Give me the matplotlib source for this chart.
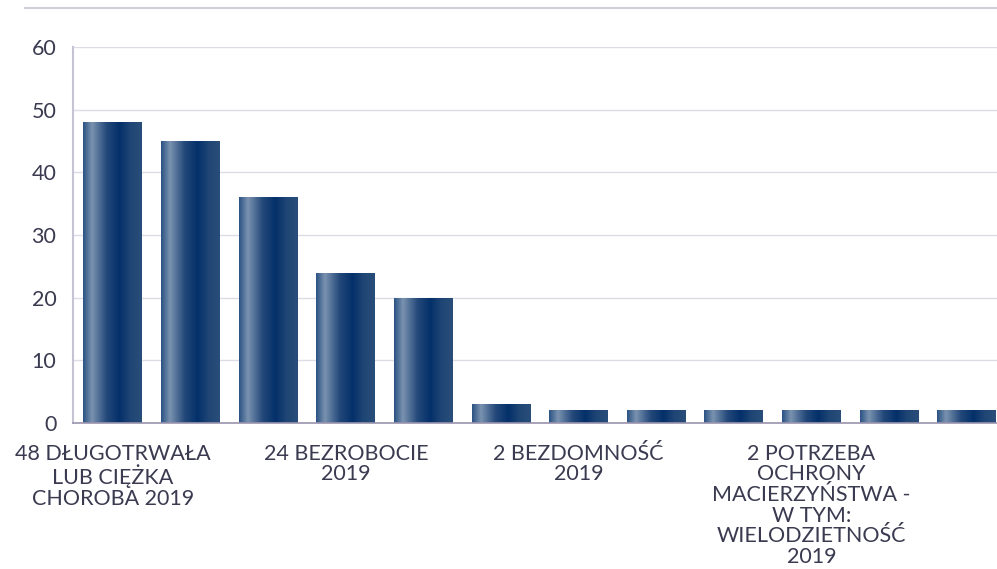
import matplotlib
matplotlib.use('Agg')
import matplotlib.pyplot as plt
import numpy as np
from matplotlib.colors import LinearSegmentedColormap

plt.rcParams['font.family'] = ['Lato', 'DejaVu Sans']

values = [48, 45, 36, 24, 20, 3, 2, 2, 2, 2, 2, 2]
categories = [
    '48 DŁUGOTRWAŁA\nLUB CIĘŻKA\nCHOROBA 2019', '', '',
    '24 BEZROBOCIE\n2019', '', '',
    '2 BEZDOMNOŚĆ\n2019', '', '',
    '2 POTRZEBA\nOCHRONY\nMACIERZYŃSTWA -\nW TYM:\nWIELODZIETNOŚĆ\n2019', '', '',
]
yticks = [0, 10, 20, 30, 40, 50, 60]

text_color = '#3a3a50'
grad = LinearSegmentedColormap.from_list('bar', [
    (0.00, '#2a5282'), (0.15, '#7a92b0'), (0.40, '#24497a'),
    (0.62, '#04306a'), (0.80, '#1e4574'), (1.00, '#2a4e7a')])

fig = plt.figure(figsize=(9.97, 5.69), dpi=100)
ax = fig.add_axes([73 / 997, 1 - 423 / 569, 1 - 73 / 997, (423 - 47) / 569])

x = np.arange(len(values))
bars = ax.bar(x, values, width=0.76, color='none', edgecolor='none', zorder=2)
g = np.linspace(0, 1, 256).reshape(1, -1)
for b in bars:
    im = ax.imshow(g, cmap=grad, aspect='auto', zorder=2,
                   extent=[b.get_x(), b.get_x() + b.get_width(), 0, b.get_height()])
    im.set_clip_path(b)

ax.set_xlim(-0.515, 11.39)
ax.set_ylim(0, 60)
ax.set_yticks(yticks)
ax.set_yticklabels([str(v) for v in yticks], fontsize=15.5, color=text_color)
ax.set_xticks(x)
ax.set_xticklabels(categories, fontsize=15.5, color=text_color, linespacing=1.04)
ax.tick_params(axis='both', length=0)
ax.tick_params(axis='y', pad=12)
ax.tick_params(axis='x', pad=15)
ax.grid(axis='y', color='#dcdce6', linewidth=1, zorder=0)
ax.set_axisbelow(True)
for s in ['top', 'right']:
    ax.spines[s].set_visible(False)
ax.spines['left'].set_color('#c4c4d4')
ax.spines['left'].set_linewidth(1.5)
ax.spines['bottom'].set_color('#9a94ae')
ax.spines['bottom'].set_linewidth(1.2)

# header separator line at the top (title area cut off)
fig.add_artist(plt.Line2D([25 / 997, 1], [1 - 8 / 569, 1 - 8 / 569], color='#d0d0d8', linewidth=1.5))

fig.savefig('out.png', dpi=100)
